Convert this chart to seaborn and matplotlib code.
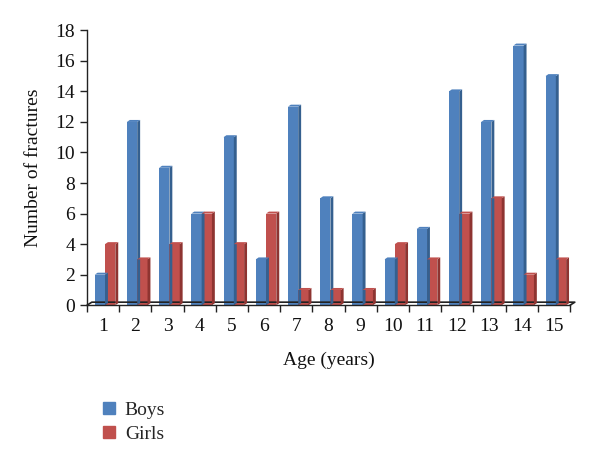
import pandas as pd
import matplotlib.pyplot as plt
import seaborn as sns
from matplotlib.patches import Polygon
from matplotlib.lines import Line2D
from matplotlib.ticker import MultipleLocator, FixedLocator

ages = [str(a) for a in range(1, 16)]
boys = [2, 12, 9, 6, 11, 3, 13, 7, 6, 3, 5, 14, 12, 17, 15]
girls = [4, 3, 4, 6, 4, 6, 1, 1, 1, 4, 3, 6, 7, 2, 3]
series = ['Boys', 'Girls']
colors = ['#4F81BD', '#C0504D']
side_colors = ['#35608F', '#8E3431']

df = pd.DataFrame({
    'Age': ages * 2,
    'Fractures': boys + girls,
    'Sex': ['Boys'] * len(ages) + ['Girls'] * len(ages),
})

sns.set_theme(style="white")
plt.rcParams['font.family'] = ['Liberation Serif', 'DejaVu Serif']

fig = plt.figure(figsize=(6, 4.66), dpi=100)
ax = fig.add_axes([0.145, 0.345, 0.805, 0.59])

sns.barplot(data=df, x='Age', y='Fractures', hue='Sex', hue_order=series,
            palette=colors, saturation=1, width=0.64, ax=ax, legend=False)

# fake 3D: side and top faces derived from each bar
dx, dy = 0.09, 0.13
for i, cont in enumerate(ax.containers):
    for p in cont.patches:
        p.set_x(p.get_x() + 0.06)
        x0 = p.get_x()
        x1 = x0 + p.get_width()
        h = p.get_height()
        p.set_linewidth(0)
        ax.add_patch(Polygon([(x1, 0), (x1 + dx, dy), (x1 + dx, h + dy), (x1, h)],
                             closed=True, facecolor=side_colors[i], lw=0, zorder=2))
        ax.add_patch(Polygon([(x0, h), (x0 + dx, h + dy), (x1 + dx, h + dy), (x1, h)],
                             closed=True, facecolor=colors[i], lw=0, zorder=2))

# floor line
ax.plot([-0.5, -0.5 + 0.15, 14.5 + 0.15, 14.5], [0, 0.2, 0.2, 0],
        color='#222222', lw=1.2, zorder=1, clip_on=False)

ax.set_xlim(-0.5, 14.5)
ax.set_ylim(0, 18)
ax.yaxis.set_major_locator(MultipleLocator(2))
ax.xaxis.set_minor_locator(FixedLocator([i - 0.5 for i in range(16)]))
ax.tick_params(axis='x', which='major', length=0, labelsize=14, pad=9, colors='#111111')
ax.tick_params(axis='x', which='minor', length=5, width=1, color='#222222', bottom=True)
ax.tick_params(axis='y', which='major', length=5, width=1, color='#222222',
               labelsize=14, left=True, colors='#111111')

for s in ['top', 'right']:
    ax.spines[s].set_visible(False)
for s in ['left', 'bottom']:
    ax.spines[s].set_color('#222222')
    ax.spines[s].set_linewidth(1)

ax.set_xlabel('Age (years)', fontsize=14, labelpad=12, color='#111111')
ax.set_ylabel('Number of fractures', fontsize=14, labelpad=10, color='#111111')

handles = [Line2D([], [], marker='s', ls='', markersize=8, color=c) for c in colors]
fig.legend(handles, series, loc='upper left', bbox_to_anchor=(0.14, 0.177),
           frameon=False, fontsize=14, handlelength=0.8, handletextpad=0.4,
           labelspacing=0.35)

fig.savefig('out.png', dpi=100)
